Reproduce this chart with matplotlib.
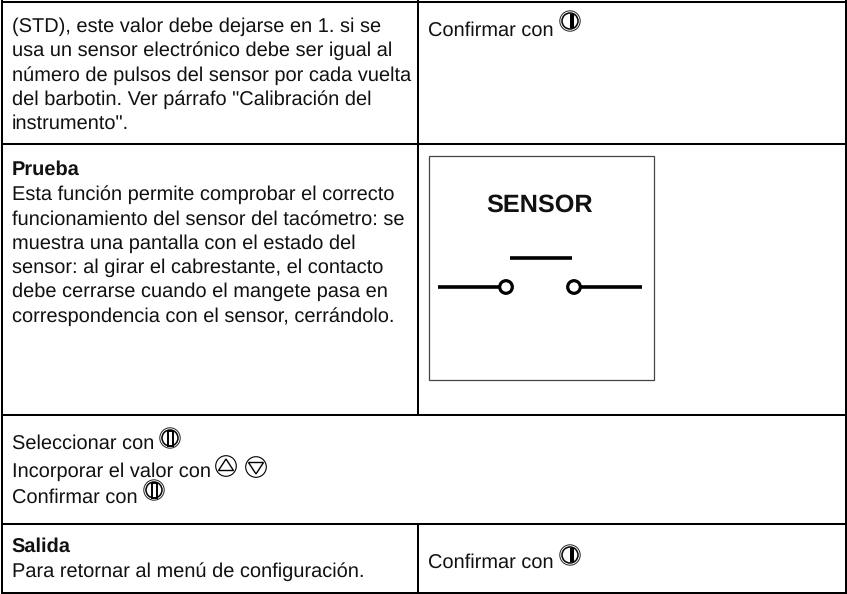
import matplotlib
matplotlib.use('Agg')
import matplotlib.pyplot as plt
from matplotlib.patches import Circle, Rectangle, Polygon

plt.rcParams['font.family'] = ['Liberation Sans', 'DejaVu Sans']
plt.rcParams['text.hinting'] = 'none'
plt.rcParams['text.hinting_factor'] = 8

W, H = 847, 594

# Texto de la tabla
celda_1 = ['(STD), este valor debe dejarse en 1. si se',
           'usa un sensor electrónico debe ser igual al',
           'número de pulsos del sensor por cada vuelta',
           'del barbotin. Ver párrafo "Calibración del',
           'instrumento".']
titulo_prueba = 'Prueba'
celda_prueba = ['Esta función permite comprobar el correcto',
                'funcionamiento del sensor del tacómetro: se',
                'muestra una pantalla con el estado del',
                'sensor: al girar el cabrestante, el contacto',
                'debe cerrarse cuando el mangete pasa en',
                'correspondencia con el sensor, cerrándolo.']
titulo_salida = 'Salida'
texto_salida = 'Para retornar al menú de configuración.'
confirmar = 'Confirmar con'
seleccionar = 'Seleccionar con'
incorporar = 'Incorporar el valor con'
sensor = 'SENSOR'

FS = 14.4
NEGRO = '#111111'

fig = plt.figure(figsize=(W / 100, H / 100), dpi=100)
ax = fig.add_axes([0, 0, 1, 1])
ax.set_xlim(0, W)
ax.set_ylim(H, 0)
ax.axis('off')


def linea(x0, y0, x1, y1, lw=1.45, color='black'):
    ax.plot([x0, x1], [y0, y1], color=color, lw=lw, solid_capstyle='butt')


def texto(x, y, s, **kw):
    ax.text(x, y, s, fontsize=kw.pop('fontsize', FS), color=NEGRO, va='baseline', ha='left', **kw)


def boton(cx, cy, tipo='confirmar'):
    # botones redondos del panel
    ax.add_patch(Circle((cx, cy), 10.2, fc='white', ec='#222222', lw=0.7))
    ax.add_patch(Circle((cx, cy), 8, fc='white', ec='black', lw=1.1))
    if tipo == 'confirmar':
        ax.add_patch(Rectangle((cx - 0.5, cy - 7), 4.5, 14, fc='black', ec='none'))
    else:
        ax.add_patch(Rectangle((cx - 2.5, cy - 7.5), 5, 15, fc='white', ec='black', lw=1.4))


def flecha(cx, cy, arriba=True):
    ax.add_patch(Circle((cx, cy), 10.3, fc='white', ec='black', lw=0.8))
    s = 1 if arriba else -1
    ax.add_patch(Polygon([(cx, cy - 7 * s), (cx - 7.5, cy + 4.5 * s), (cx + 7.5, cy + 4.5 * s)],
                         closed=True, fc='white', ec='black', lw=1.0))


# Tabla
for y in [1.5, 144, 415, 524, 592.5]:
    linea(0.5, y, 847, y)
linea(2, 0, 2, 593)
linea(846, 0, 846, 593)
linea(418, 0, 418, 415)
linea(418, 524, 418, 593)

# Celda superior
for i, s in enumerate(celda_1):
    texto(11.5, 32 + i * 24.3, s)
texto(427.5, 36, confirmar)
boton(570, 21)

# Prueba
texto(11.5, 175, titulo_prueba, fontweight='bold')
for i, s in enumerate(celda_prueba):
    texto(11.5, 200 + i * 24.3, s)

# Pantalla del sensor
ax.add_patch(Rectangle((429, 155.5), 224.5, 224, fc='white', ec='#444444', lw=0.9))
ax.text(540, 212, sensor, fontsize=18.2, fontweight='bold', ha='center', va='baseline', color=NEGRO)
linea(510, 258, 572, 258, lw=2.6)
linea(438, 287, 500, 287, lw=2.6)
linea(580, 287, 642, 287, lw=2.6)
ax.add_patch(Circle((506, 287), 6.3, fc='white', ec='black', lw=2.3))
ax.add_patch(Circle((574, 287), 6.3, fc='white', ec='black', lw=2.3))

# Fila ancha
texto(11.5, 449, seleccionar)
boton(170, 438, 'seleccionar')
texto(11.5, 477, incorporar)
flecha(226, 466)
flecha(256, 467, arriba=False)
texto(11.5, 503, confirmar)
boton(154, 490, 'seleccionar')

# Salida
texto(11.5, 552, titulo_salida, fontweight='bold')
texto(11.5, 577, texto_salida)
texto(427.5, 568, confirmar)
boton(570, 555)

fig.savefig('out.png', dpi=100)
